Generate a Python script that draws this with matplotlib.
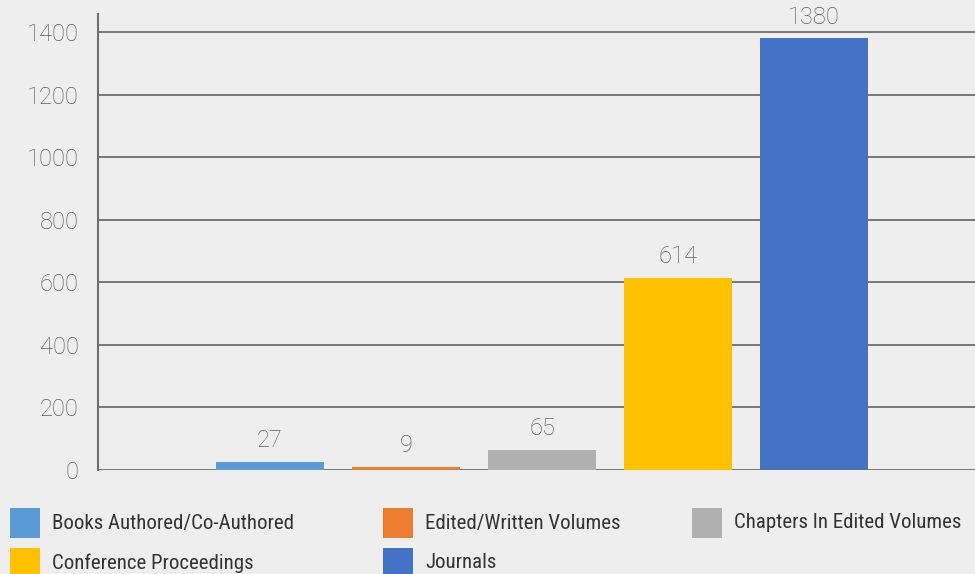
import matplotlib
matplotlib.use("Agg")
import matplotlib.pyplot as plt
from matplotlib import font_manager
from matplotlib.patches import Rectangle

series = ["Books Authored/Co-Authored", "Edited/Written Volumes", "Chapters In Edited Volumes",
          "Conference Proceedings", "Journals"]
values = [27, 9, 65, 614, 1380]
colors = ["#5B9BD5", "#ED7D31", "#B0B0B0", "#FFC000", "#4472C4"]
yticks = [0, 200, 400, 600, 800, 1000, 1200, 1400]

names = {f.name for f in font_manager.fontManager.ttflist}
cond = "Roboto Condensed" if "Roboto Condensed" in names else "Roboto"
plt.rcParams['font.family'] = ['Roboto', 'DejaVu Sans']

W, H = 975, 574
fig = plt.figure(figsize=(W / 100, H / 100), dpi=100)
bg = "#EEEEEE"
fig.patch.set_facecolor(bg)
ax = fig.add_axes([98 / W, (H - 470) / H, (W - 98) / W, (470 - 14) / H])
ax.set_facecolor(bg)

x = list(range(len(values)))
ax.bar(x, values, width=108 / 136, color=colors, zorder=3)
for xi, v in zip(x, values):
    ax.annotate(str(v), (xi, v), xytext=(0, 7), textcoords="offset points",
                ha="center", va="bottom", fontsize=17, color="#5c5c5c", fontweight="light")

ax.set_xlim((98 - 270) / 136, (975 - 270) / 136)
ax.set_ylim(0, 1458)
ax.set_yticks(yticks)
ax.set_yticklabels([str(t) for t in yticks])
ax.tick_params(axis="y", length=0, pad=14, labelsize=17, labelcolor="#5c5c5c")
for lbl in ax.get_yticklabels():
    lbl.set_fontweight("light")
ax.set_xticks([])
ax.grid(axis="y", color="#6e6e6e", linewidth=1.3, zorder=1)
for s in ["top", "right", "bottom"]:
    ax.spines[s].set_visible(False)
ax.spines["left"].set_color("#6e6e6e")
ax.spines["left"].set_linewidth(1.5)

# legend (row-major, 3 columns)
col_x = [10, 383, 692]
row_y = [523, 563]
for i, (name, c) in enumerate(zip(series, colors)):
    cx = col_x[i % 3]
    cy = row_y[i // 3]
    fig.patches.append(Rectangle((cx / W, (H - cy - 15) / H), 30 / W, 30 / H,
                                 transform=fig.transFigure, facecolor=c, edgecolor="none"))
    fig.text((cx + 42) / W, (H - cy) / H, name, ha="left", va="center",
             fontsize=15, color="#333333", family=[cond, 'DejaVu Sans'])

fig.savefig("out.png", dpi=100, facecolor=bg)
